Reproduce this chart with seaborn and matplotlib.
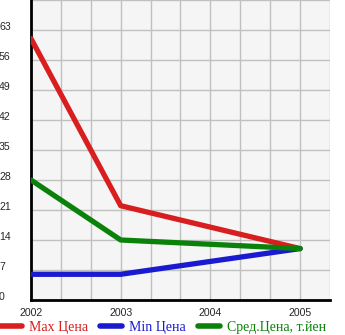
import matplotlib
matplotlib.use("Agg")
import matplotlib.pyplot as plt
import matplotlib.transforms as mtransforms
from matplotlib.lines import Line2D
import seaborn as sns
import pandas as pd
import numpy as np

years = [2002, 2003, 2005]
max_price = [61, 22, 12]
min_price = [6, 6, 12]
avg_price = [28, 14, 12]
series_names = ["Max Цена", "Min Цена", "Сред.Цена, т.йен"]
colors = ["#d81e1e", "#1a1ad0", "#0a820a"]
xtick_labels = ["2002", "2003", "2004", "2005"]
ytick_values = [0, 7, 14, 21, 28, 35, 42, 49, 56, 63]

df = pd.DataFrame({
    "year": years * 3,
    "value": max_price + min_price + avg_price,
    "series": [series_names[0]] * 3 + [series_names[1]] * 3 + [series_names[2]] * 3,
})

sns.set_style("white")
plt.rcParams["font.family"] = ["Liberation Sans", "DejaVu Sans"]

fig = plt.figure(figsize=(3.45, 3.35), dpi=100)
ax = fig.add_axes([31 / 345, 35 / 335, 299 / 345, 300 / 335])
ax.set_facecolor("#f5f5f5")

sns.lineplot(data=df, x="year", y="value", hue="series", palette=colors,
             hue_order=series_names, linewidth=3.8, ax=ax, legend=False,
             solid_capstyle="round", zorder=3)

ax.set_xlim(2002, 2005 + 1 / 3)
ax.set_ylim(0, 70)
ax.set_xticks([2002, 2003, 2004, 2005])
ax.set_xticklabels(xtick_labels, fontsize=7.6)
ax.set_xticks(np.arange(2002, 2005.4, 1 / 3), minor=True)
ax.set_yticks(ytick_values + [70])
ax.set_yticklabels([str(v) for v in ytick_values] + [""], fontsize=7.6)
ax.set_yticks(np.arange(0, 71, 7), minor=True)
ax.grid(True, which="both", color="#c0c0c0", linewidth=1.0)
ax.set_axisbelow(True)
ax.set_xlabel("")
ax.set_ylabel("")

for s in ["top", "right"]:
    ax.spines[s].set_visible(False)
for s in ["left", "bottom"]:
    ax.spines[s].set_color("black")
    ax.spines[s].set_linewidth(2)

ax.tick_params(axis="x", which="both", direction="out", length=3, width=1,
               color="black", pad=3)
ax.tick_params(axis="y", which="both", direction="out", length=3, width=1,
               color="black", pad=20)
for lbl in ax.get_yticklabels():
    lbl.set_horizontalalignment("left")
    lbl.set_transform(lbl.get_transform() + mtransforms.ScaledTranslation(0, 3 / 72, fig.dpi_scale_trans))

handles = [Line2D([0], [0], color=c, linewidth=4, solid_capstyle="round") for c in colors]
leg = fig.legend(handles, series_names, loc="center left", bbox_to_anchor=(-0.037, 8 / 335),
                 ncol=3, frameon=False, handlelength=1.6, handletextpad=0.5,
                 columnspacing=0.85, prop={"family": "Liberation Serif", "size": 10})
for t, c in zip(leg.get_texts(), colors):
    t.set_color(c)

fig.savefig("out.png", dpi=100)
